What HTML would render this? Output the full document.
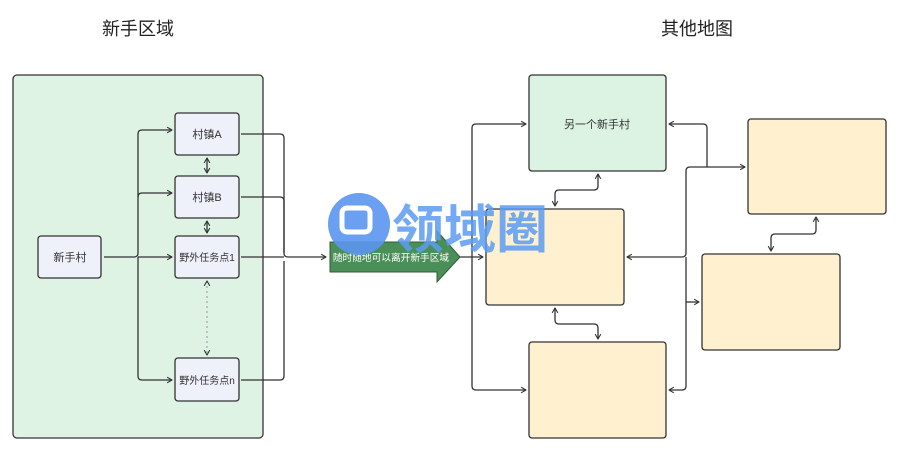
<!DOCTYPE html>
<html><head><meta charset="utf-8"><style>
body{margin:0;width:900px;height:452px;background:#fff;overflow:hidden;font-family:"Liberation Sans","Noto Sans CJK SC",sans-serif;}
</style></head><body>
<svg width="900" height="452" xmlns="http://www.w3.org/2000/svg" font-family="Liberation Sans, Noto Sans CJK SC, sans-serif">
<defs>
<marker id="a" viewBox="0 0 10 10" refX="9" refY="5" markerWidth="7" markerHeight="7" markerUnits="userSpaceOnUse" orient="auto-start-reverse"><path d="M2 1 L9 5 L2 9" fill="none" stroke="#333" stroke-width="1.6"/></marker>
</defs>
<text x="138" y="35" font-size="18" text-anchor="middle" fill="#222">新手区域</text>
<text x="697" y="35" font-size="18" text-anchor="middle" fill="#222">其他地图</text>
<rect x="13" y="75" width="250" height="363" rx="4" fill="#dff3e4" stroke="#333" stroke-width="1.3"/>
<g fill="#eef0fa" stroke="#333" stroke-width="1.3">
<rect x="38" y="236" width="63" height="42" rx="3"/>
<rect x="175" y="113" width="64" height="42" rx="3"/>
<rect x="175" y="176" width="64" height="42" rx="3"/>
<rect x="175" y="236" width="64" height="42" rx="3"/>
<rect x="175" y="358" width="64" height="43" rx="3"/>
</g>
<g font-size="11" fill="#333" text-anchor="middle">
<text x="70" y="261">新手村</text>
<text x="207" y="138">村镇A</text>
<text x="207" y="201">村镇B</text>
<text x="207" y="261" font-size="10">野外任务点1</text>
<text x="207" y="384" font-size="10">野外任务点n</text>
</g>
<g fill="none" stroke="#333" stroke-width="1.3">
<path d="M104 257 H134 M134 257 Q138 257 138 253 V134 Q138 130 142 130 H172" marker-end="url(#a)"/>
<path d="M138 197 Q138 193 142 193 H172" marker-end="url(#a)"/>
<path d="M138 257 H172" marker-end="url(#a)"/>
<path d="M138 257 V376 Q138 380 142 380 H172" marker-end="url(#a)"/>
<path d="M207 158 V173" marker-start="url(#a)" marker-end="url(#a)"/>
<path d="M207 221 V233" marker-start="url(#a)" marker-end="url(#a)"/>
<path d="M207 281 V355" stroke="#aaa" stroke-dasharray="2 3" marker-start="url(#a)" marker-end="url(#a)"/>
<path d="M241 134 H280 Q284 134 284 138 V253 Q284 257 288 257 H326" marker-end="url(#a)"/>
<path d="M241 197 H280 Q284 197 284 201 V253"/>
<path d="M241 257 H284"/>
<path d="M241 380 H280 Q284 380 284 376 V261"/>
<path d="M460 257 H483" marker-end="url(#a)"/>
<path d="M526 124 H476 Q472 124 472 128 V386 Q472 390 476 390 H526" marker-start="url(#a)" marker-end="url(#a)"/>
<path d="M555 206 V194 Q555 190 559 190 H594 Q598 190 598 186 V174" marker-start="url(#a)" marker-end="url(#a)"/>
<path d="M555 308 V320 Q555 324 559 324 H594 Q598 324 598 328 V339" marker-start="url(#a)" marker-end="url(#a)"/>
<path d="M627 257 H682 Q686 257 686 253 V171 Q686 167 690 167 H745" marker-start="url(#a)" marker-end="url(#a)"/>
<path d="M669 124 H703 Q707 124 707 128 V167" marker-start="url(#a)"/>
<path d="M686 257 V386 Q686 390 682 390 H669" marker-end="url(#a)"/>
<path d="M686 302 H699" marker-end="url(#a)"/>
<path d="M816 217 V230 Q816 234 812 234 H775 Q771 234 771 238 V251" marker-start="url(#a)" marker-end="url(#a)"/>
</g>
<g stroke="#333" stroke-width="1.3">
<rect x="529" y="75" width="137" height="96" rx="3" fill="#dcf2e2"/>
<rect x="486" y="209" width="138" height="96" rx="3" fill="#fff0cf"/>
<rect x="529" y="342" width="137" height="96" rx="3" fill="#fff0cf"/>
<rect x="748" y="119" width="138" height="95" rx="3" fill="#fff0cf"/>
<rect x="702" y="254" width="138" height="96" rx="3" fill="#fff0cf"/>
</g>
<text x="597" y="128" font-size="11" fill="#333" text-anchor="middle">另一个新手村</text>
<path d="M330 242 H437 V231 L460 257 L437 282 V272 H330 Z" fill="#4a8f57" stroke="#2f5c38" stroke-width="1"/>
<text x="391" y="261" font-size="9.7" fill="#fff" text-anchor="middle">随时随地可以离开新手区域</text>
<circle cx="359" cy="224" r="31" fill="#5a95f0" opacity="0.9"/>
<rect x="342" y="208" width="28" height="24" rx="5" fill="none" stroke="#fff" stroke-width="5"/>
<text x="392" y="248" font-size="52" font-weight="bold" fill="#5c9cf2" opacity="0.85" font-family="Noto Sans CJK SC, sans-serif">领域圈</text>
</svg>
</body></html>
